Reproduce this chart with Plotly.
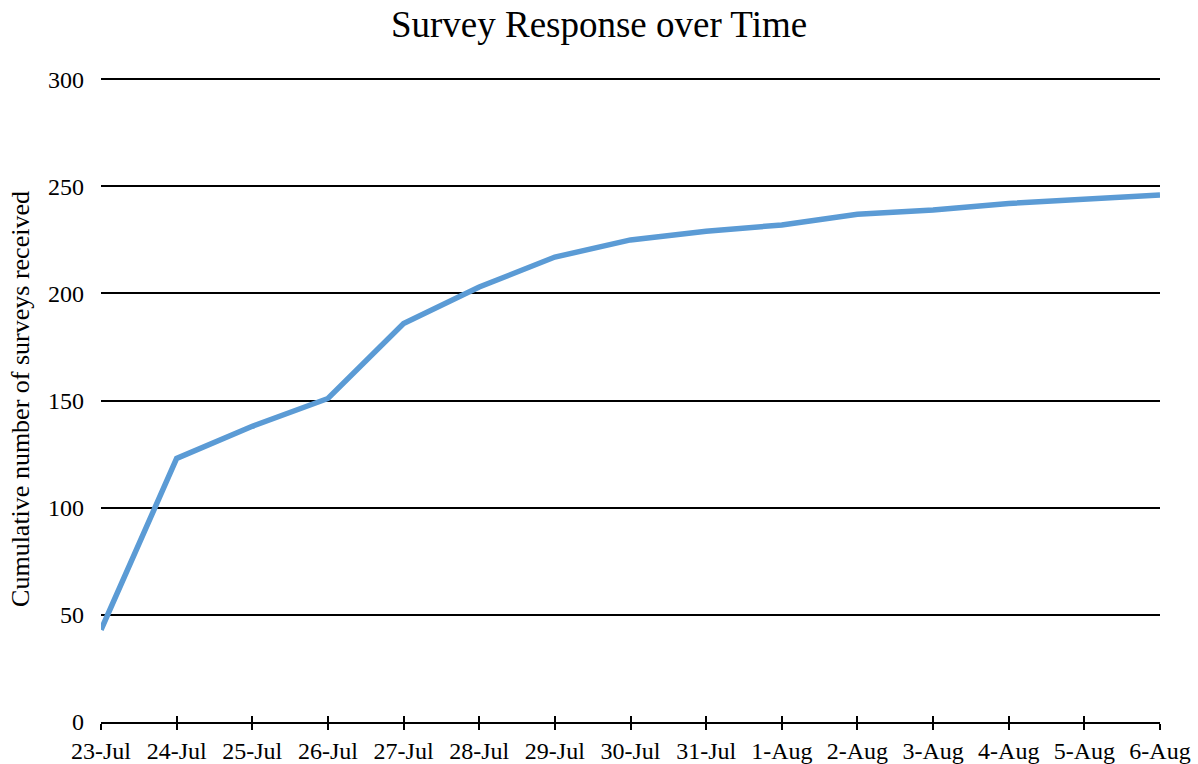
import plotly.graph_objects as go

# Survey responses accumulated per day
dates = ["23-Jul", "24-Jul", "25-Jul", "26-Jul", "27-Jul", "28-Jul", "29-Jul", "30-Jul",
         "31-Jul", "1-Aug", "2-Aug", "3-Aug", "4-Aug", "5-Aug", "6-Aug"]
cumulative = [43, 123, 138, 151, 186, 203, 217, 225, 229, 232, 237, 239, 242, 244, 246]
y_ticks = [0, 50, 100, 150, 200, 250, 300]

FONT = "Liberation Serif, Times New Roman, serif"

fig = go.Figure()
fig.add_trace(go.Scatter(
    x=dates, y=cumulative, mode="lines",
    line=dict(color="#5B9BD5", width=5.5),
    showlegend=False, cliponaxis=False,
))
# invisible copy on a second x axis so tick marks cross the baseline
fig.add_trace(go.Scatter(
    x=dates, y=cumulative, mode="lines", xaxis="x2",
    line=dict(color="rgba(0,0,0,0)", width=0),
    showlegend=False, hoverinfo="skip",
))

fig.update_layout(
    width=1198, height=764,
    margin=dict(l=101, r=38, t=76, b=42, autoexpand=False),
    paper_bgcolor="white", plot_bgcolor="white",
    font=dict(family=FONT, color="black", size=24),
    title=dict(text="Survey Response over Time", x=0.5, xanchor="center",
               y=0.969, yanchor="middle", font=dict(size=37, family=FONT)),
    xaxis=dict(
        type="category", range=[0, len(dates) - 1], automargin=False,
        showgrid=False, showline=True, linecolor="black", linewidth=1.8,
        ticks="outside", ticklen=6, tickwidth=1.8, tickcolor="black",
        tickfont=dict(size=24), zeroline=False,
    ),
    xaxis2=dict(
        type="category", range=[0, len(dates) - 1], overlaying="x", automargin=False,
        showgrid=False, showline=False, ticks="inside", ticklen=6,
        tickwidth=1.8, tickcolor="black", showticklabels=False, side="bottom",
    ),
    yaxis=dict(
        # a little headroom above 300 keeps the top gridline visible
        range=[0, 301.5], tickvals=y_ticks, showgrid=True, gridcolor="black",
        gridwidth=1.8, zeroline=False, showline=False, ticks="", automargin=False,
        ticklabelstandoff=16, tickfont=dict(size=24),
        title=dict(text="Cumulative number of surveys received",
                   font=dict(size=26, family=FONT), standoff=10),
    ),
)

fig.write_html("out.html")
